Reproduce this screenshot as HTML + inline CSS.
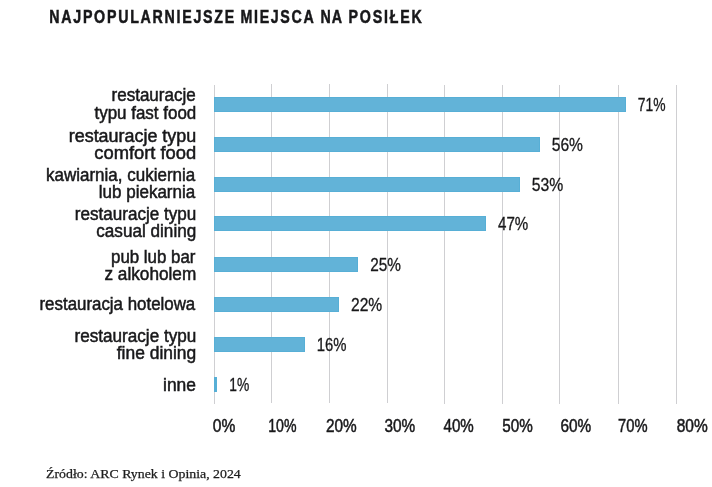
<!DOCTYPE html>
<html><head><meta charset="utf-8"><title>Najpopularniejsze miejsca na posiłek</title>
<style>
html,body{margin:0;padding:0;background:#fff;}
svg{display:block;}
text{font-family:"Liberation Sans",sans-serif;fill:#18181a;stroke:#18181a;stroke-width:0.5px;}
.l{font-size:17.5px;}
.v{font-size:17.5px;stroke-width:0.3px;}
.a{font-size:18px;stroke-width:0.5px;}
.t{font-size:17.8px;font-weight:bold;stroke-width:0.5px;}
.s{font-family:"Liberation Serif",serif;font-size:12.5px;fill:#1e1e1e;stroke:#1e1e1e;stroke-width:0.25px;}
</style></head><body>
<svg width="712" height="487" viewBox="0 0 712 487">
<rect width="712" height="487" fill="#ffffff"/>
<rect x="214" y="85" width="1" height="319" fill="#cfcfd2"/>
<rect x="271" y="84" width="1" height="319" fill="#cfcfd2"/>
<rect x="329" y="84" width="1" height="319" fill="#cfcfd2"/>
<rect x="387" y="84" width="1" height="319" fill="#cfcfd2"/>
<rect x="444" y="85" width="1" height="319" fill="#cfcfd2"/>
<rect x="502" y="85" width="1" height="319" fill="#cfcfd2"/>
<rect x="559" y="85" width="1" height="319" fill="#cfcfd2"/>
<rect x="618" y="85" width="1" height="319" fill="#cfcfd2"/>
<rect x="676" y="85" width="1" height="319" fill="#cfcfd2"/>
<rect x="214" y="97" width="412.0" height="15" fill="#57afd6"/>
<rect x="215" y="98" width="410.0" height="13" fill="#62b3d8"/>
<rect x="214" y="137" width="326.0" height="15" fill="#57afd6"/>
<rect x="215" y="138" width="324.0" height="13" fill="#62b3d8"/>
<rect x="214" y="177" width="306.0" height="15" fill="#57afd6"/>
<rect x="215" y="178" width="304.0" height="13" fill="#62b3d8"/>
<rect x="214" y="216" width="272.0" height="15" fill="#57afd6"/>
<rect x="215" y="217" width="270.0" height="13" fill="#62b3d8"/>
<rect x="214" y="257" width="144.0" height="15" fill="#57afd6"/>
<rect x="215" y="258" width="142.0" height="13" fill="#62b3d8"/>
<rect x="214" y="297" width="125.0" height="15" fill="#57afd6"/>
<rect x="215" y="298" width="123.0" height="13" fill="#62b3d8"/>
<rect x="214" y="337" width="91.0" height="15" fill="#57afd6"/>
<rect x="215" y="338" width="89.0" height="13" fill="#62b3d8"/>
<rect x="214" y="377" width="3.0" height="15" fill="#57afd6"/>
<g opacity="0.999">
<text id="v1" class="v" x="637.75" y="111.1" textLength="27.75" lengthAdjust="spacingAndGlyphs">71%</text>
<text id="v2" class="v" x="551.75" y="150.8" textLength="31.25" lengthAdjust="spacingAndGlyphs">56%</text>
<text id="v3" class="v" x="531.75" y="190.8" textLength="31.50" lengthAdjust="spacingAndGlyphs">53%</text>
<text id="v4" class="v" x="498.00" y="229.6" textLength="30.25" lengthAdjust="spacingAndGlyphs">47%</text>
<text id="v5" class="v" x="370.25" y="270.9" textLength="30.75" lengthAdjust="spacingAndGlyphs">25%</text>
<text id="v6" class="v" x="351.00" y="310.7" textLength="31.25" lengthAdjust="spacingAndGlyphs">22%</text>
<text id="v7" class="v" x="316.75" y="350.8" textLength="29.75" lengthAdjust="spacingAndGlyphs">16%</text>
<text id="v8" class="v" x="229.25" y="390.8" textLength="20.00" lengthAdjust="spacingAndGlyphs">1%</text>
<text id="l1a" class="l" x="111.50" y="101" textLength="84.25" lengthAdjust="spacingAndGlyphs">restauracje</text>
<text id="l1b" class="l" x="94.50" y="118.6" textLength="101.75" lengthAdjust="spacingAndGlyphs">typu fast food</text>
<text id="l2a" class="l" x="68.75" y="141.6" textLength="127.50" lengthAdjust="spacingAndGlyphs">restauracje typu</text>
<text id="l2b" class="l" x="94.25" y="158.8" textLength="102.00" lengthAdjust="spacingAndGlyphs">comfort food</text>
<text id="l3a" class="l" x="46.00" y="180.9" textLength="149.25" lengthAdjust="spacingAndGlyphs">kawiarnia, cukiernia</text>
<text id="l3b" class="l" x="98.75" y="198" textLength="96.50" lengthAdjust="spacingAndGlyphs">lub piekarnia</text>
<text id="l4a" class="l" x="74.75" y="219.8" textLength="121.50" lengthAdjust="spacingAndGlyphs">restauracje typu</text>
<text id="l4b" class="l" x="96.25" y="236.5" textLength="100.00" lengthAdjust="spacingAndGlyphs">casual dining</text>
<text id="l5a" class="l" x="111.00" y="262.5" textLength="84.50" lengthAdjust="spacingAndGlyphs">pub lub bar</text>
<text id="l5b" class="l" x="104.50" y="279.9" textLength="91.75" lengthAdjust="spacingAndGlyphs">z alkoholem</text>
<text id="l6" class="l" x="39.50" y="309.8" textLength="155.75" lengthAdjust="spacingAndGlyphs">restauracja hotelowa</text>
<text id="l7a" class="l" x="74.50" y="341.8" textLength="121.75" lengthAdjust="spacingAndGlyphs">restauracje typu</text>
<text id="l7b" class="l" x="116.75" y="359.3" textLength="79.50" lengthAdjust="spacingAndGlyphs">fine dining</text>
<text id="l8" class="l" x="163.00" y="390.5" textLength="33.00" lengthAdjust="spacingAndGlyphs">inne</text>
<text id="a0" class="a" x="212.75" y="432.0" textLength="22.50" lengthAdjust="spacingAndGlyphs">0%</text>
<text id="a1" class="a" x="268.25" y="432.0" textLength="28.25" lengthAdjust="spacingAndGlyphs">10%</text>
<text id="a2" class="a" x="326.00" y="432.0" textLength="30.75" lengthAdjust="spacingAndGlyphs">20%</text>
<text id="a3" class="a" x="384.50" y="432.0" textLength="30.75" lengthAdjust="spacingAndGlyphs">30%</text>
<text id="a4" class="a" x="443.50" y="432.0" textLength="30.25" lengthAdjust="spacingAndGlyphs">40%</text>
<text id="a5" class="a" x="502.25" y="432.0" textLength="30.50" lengthAdjust="spacingAndGlyphs">50%</text>
<text id="a6" class="a" x="560.50" y="432.0" textLength="30.75" lengthAdjust="spacingAndGlyphs">60%</text>
<text id="a7" class="a" x="618.00" y="432.0" textLength="29.50" lengthAdjust="spacingAndGlyphs">70%</text>
<text id="a8" class="a" x="676.75" y="432.0" textLength="31.00" lengthAdjust="spacingAndGlyphs">80%</text>
<text id="s" class="s" x="46.00" y="478" textLength="194.75" lengthAdjust="spacingAndGlyphs">Źródło: ARC Rynek i Opinia, 2024</text>
<text id="t1" class="t" transform="translate(49.25,22.7) scale(0.8,1)" textLength="231.25" lengthAdjust="spacing">NAJPOPULARNIEJSZE</text>
<text id="t2" class="t" transform="translate(240.50,22.7) scale(0.8,1)" textLength="91.56" lengthAdjust="spacing">MIEJSCA</text>
<text id="t3" class="t" transform="translate(320.50,22.7) scale(0.8,1)" textLength="26.88" lengthAdjust="spacing">NA</text>
<text id="t4" class="t" transform="translate(348.50,22.7) scale(0.8,1)" textLength="91.56" lengthAdjust="spacing">POSIŁEK</text>
</g></svg></body></html>
